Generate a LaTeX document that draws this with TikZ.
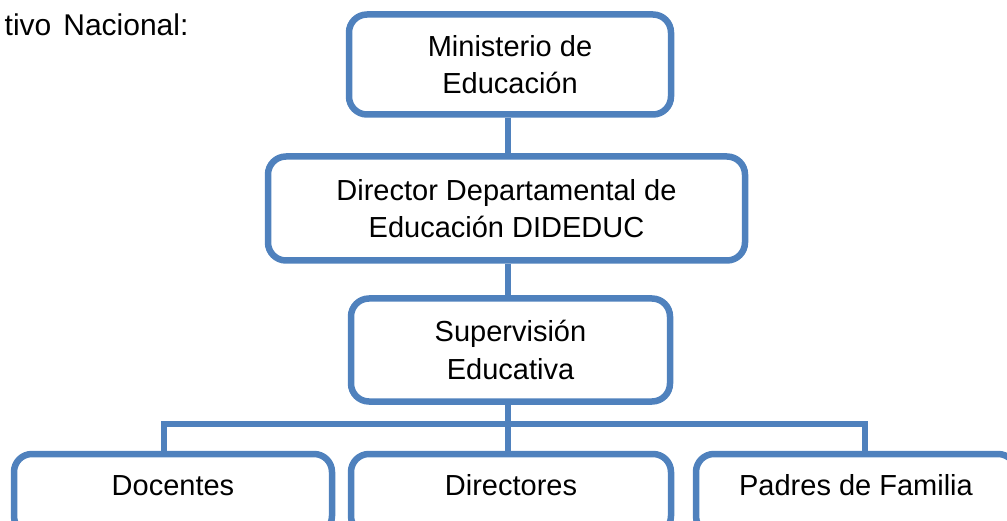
\documentclass[tikz,border=0pt]{standalone}
\usepackage{fontspec}
\setmainfont{Liberation Sans}
\definecolor{boxblue}{RGB}{79,129,189}
\begin{document}
\begin{tikzpicture}[x=1pt,y=-1pt,
  box/.style={draw=boxblue, line width=6.5pt, rounded corners=18pt, inner sep=0pt,
    align=center, font=\fontsize{29}{37.7}\selectfont},
  lowbox/.style={box, minimum width=320pt, minimum height=80pt, text height=21pt, text depth=18pt},
  conn/.style={draw=boxblue, line width=6.5pt}]
\useasboundingbox (0,0) rectangle (1007,521);
\clip (0,0) rectangle (1007,521);
\node[anchor=base west, inner sep=0pt, font=\fontsize{30}{36}\selectfont] (title) at (4.5,36) {tivo\hspace{12pt}Nacional:};
\node[box, minimum width=322pt, minimum height=100pt] (min) at (510,64.5) {Ministerio de\\Educación};
\node[box, minimum width=477pt, minimum height=104pt] (dir) at (506.5,208.5) {Director Departamental de\\Educación DIDEDUC};
\node[box, minimum width=319pt, minimum height=103pt] (sup) at (510.5,350) {Supervisión\\Educativa};
\node[lowbox, minimum width=318pt] (doc) at (173,494) {Docentes};
\node[lowbox] (dirs) at (511,494) {Directores};
\node[lowbox] (pad) at (856,494) {Padres de Familia};
\coordinate (bl) at (164,424);
\coordinate (bm) at (508,424);
\coordinate (br) at (865,424);
\draw[conn] (min.south -| bm) -- (dir.north -| bm);
\draw[conn] (dir.south -| bm) -- (sup.north -| bm);
\draw[conn] (sup.south -| bm) -- (dirs.north -| bm);
\draw[conn] (doc.north -| bl) -- (bl) -- (br) -- (pad.north -| br);
\end{tikzpicture}
\end{document}
